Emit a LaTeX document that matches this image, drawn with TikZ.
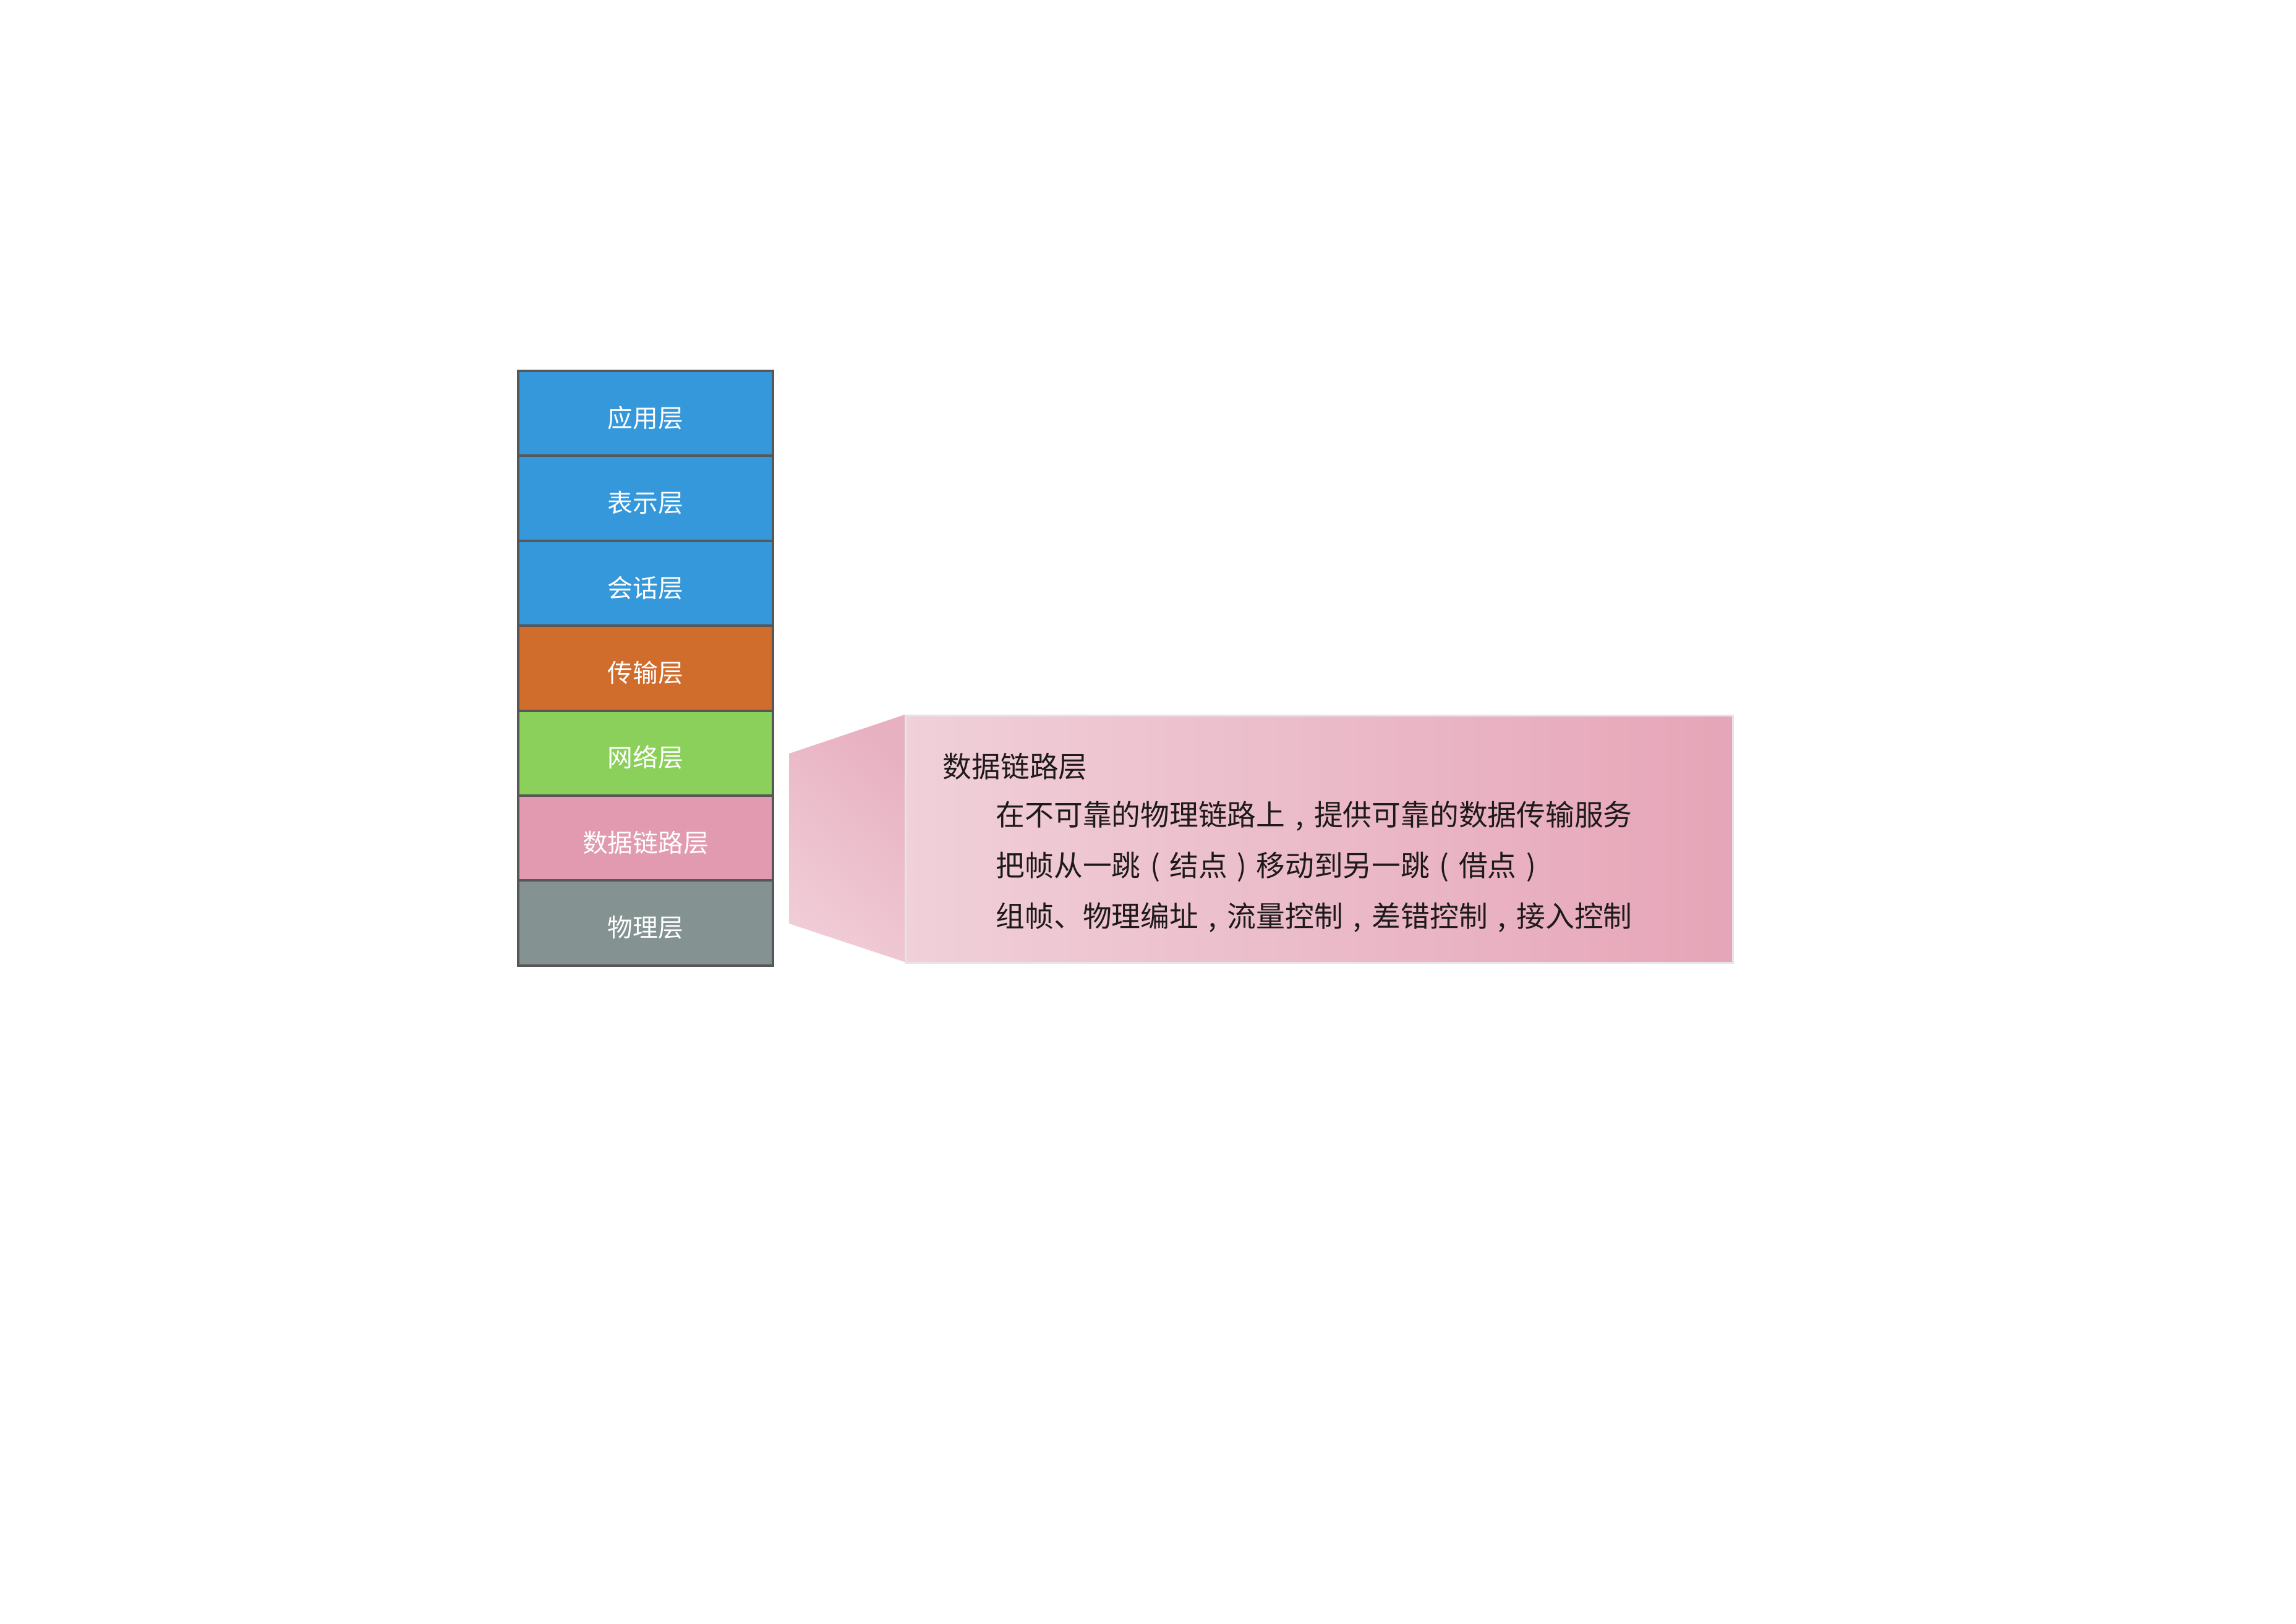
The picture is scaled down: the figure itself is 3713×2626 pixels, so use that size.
\documentclass[tikz,border=0pt]{standalone}
\usepackage{fontspec}
\newfontfamily\cjk{Noto Sans CJK SC}
\definecolor{blueL}{HTML}{3598DB}
\definecolor{orangeL}{HTML}{D06C2C}
\definecolor{greenL}{HTML}{8BD05A}
\definecolor{pinkL}{HTML}{E29AB0}
\definecolor{grayL}{HTML}{849392}
\definecolor{edgeL}{HTML}{575757}
\definecolor{boxLeft}{HTML}{F0D0D9}
\definecolor{boxRight}{HTML}{E6A5B8}
\definecolor{trapDark}{HTML}{E8B1C1}
\definecolor{trapLight}{HTML}{F0CCD6}
\definecolor{boxEdge}{HTML}{E6E4E5}
\definecolor{txt}{HTML}{1E1A1C}
\newcommand{\fwc}{\makebox[1em][c]{,}}
\newcommand{\fwl}{\makebox[1em][c]{(}}
\newcommand{\fwr}{\makebox[1em][c]{)}}
\tikzset{
  layer/.style={draw=edgeL, line width=1.14pt, minimum width=4.12cm, minimum height=1.374cm,
    inner sep=0pt, text height=14.2pt, text depth=1.4pt, text=white,
    font=\cjk\fontsize{11.6pt}{14pt}\selectfont},
  desc/.style={anchor=west, inner sep=0pt, text=txt, font=\cjk\fontsize{13.3pt}{16pt}\selectfont}
}
\begin{document}
\begin{tikzpicture}[x=0.01cm, y=-0.01cm]
\useasboundingbox (0,0) rectangle (3713,2626);
% layer stack
\node[layer, fill=blueL]   (app)  at (1044,668.7)  {应用层};
\node[layer, fill=blueL]   (pres) at (1044,806.1)  {表示层};
\node[layer, fill=blueL]   (sess) at (1044,943.5)  {会话层};
\node[layer, fill=orangeL] (tran) at (1044,1080.9) {传输层};
\node[layer, fill=greenL]  (net)  at (1044,1218.3) {网络层};
\node[layer, fill=pinkL]   (link) at (1044,1355.7) {数据链路层};
\node[layer, fill=grayL]   (phy)  at (1044,1493.1) {物理层};
% callout
\coordinate (tl) at (1276,1219);
\coordinate (bl) at (1276,1494);
\coordinate (tr) at (1463,1156);
\coordinate (br) at (1463,1556);
\shade[top color=trapDark, bottom color=trapLight, shading angle=-40]
  (tl) -- (tr) -- (br) -- (bl) -- cycle;
\node[draw=boxEdge, line width=0.85pt, left color=boxLeft, right color=boxRight,
  anchor=north west, minimum width=13.37cm, minimum height=4cm, inner sep=0pt]
  (box) at (tr) {};
\node[desc] (title) at (1524,1240) {数据链路层};
\node[desc] (l1) at (1610,1320) {在不可靠的物理链路上\fwc 提供可靠的数据传输服务};
\node[desc] (l2) at (1610,1402) {把帧从一跳\fwl 结点\fwr 移动到另一跳\fwl 借点\fwr};
\node[desc] (l3) at (1610,1484) {组帧、物理编址\fwc 流量控制\fwc 差错控制\fwc 接入控制};
\end{tikzpicture}
\end{document}
